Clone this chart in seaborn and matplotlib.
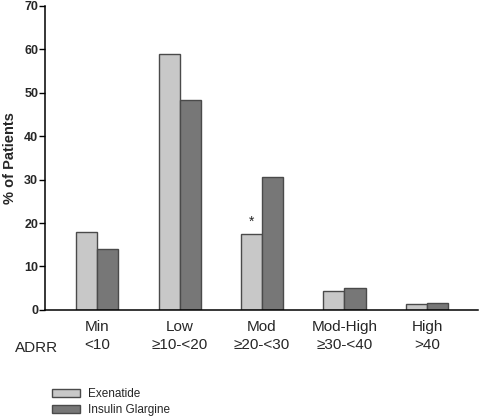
import numpy as np
import pandas as pd
import matplotlib
matplotlib.use("Agg")
import matplotlib.pyplot as plt
import seaborn as sns

# Data
categories = ["Min", "Low", "Mod", "Mod-High", "High"]
ranges = ["<10", "\u226510-<20", "\u226520-<30", "\u226530-<40", ">40"]
exenatide = [18.0, 58.8, 17.4, 4.4, 1.3]
glargine = [14.1, 48.3, 30.6, 5.1, 1.5]
drugs = ["Exenatide", "Insulin Glargine"]
colors = ["#c8c8c8", "#777777"]

df = pd.DataFrame({
    "group": categories * 2,
    "pct": exenatide + glargine,
    "drug": [drugs[0]] * len(categories) + [drugs[1]] * len(categories),
})

sns.set_style("white")
plt.rcParams["font.family"] = ["Liberation Sans", "DejaVu Sans"]

fig = plt.figure(figsize=(4.8, 4.16), dpi=100)
ax = fig.add_axes([0.094, 0.255, 0.902, 0.731])

sns.barplot(data=df, x="group", y="pct", hue="drug", order=categories,
            hue_order=drugs, palette=colors, width=0.51, gap=0,
            edgecolor="#4a4a4a", linewidth=1.0, saturation=1, ax=ax)

ax.set_ylim(0, 70)
ax.set_xlim(-0.63, 4.62)
ax.set_yticks(range(0, 71, 10))
ax.set_ylabel("% of Patients", fontsize=10.5, fontweight="bold", labelpad=5)
ax.set_xlabel("")
ax.set_xticks(range(len(categories)))
ax.set_xticklabels([f"{c}\n{r}" for c, r in zip(categories, ranges)],
                   fontsize=11, linespacing=1.4)
for lbl in ax.get_yticklabels():
    lbl.set_fontweight("bold")
ax.tick_params(axis="y", length=4, width=1, labelsize=9, pad=1, left=True, color="black")
ax.tick_params(axis="x", length=0, pad=7)

sns.despine(ax=ax)
for side in ["left", "bottom"]:
    ax.spines[side].set_color("black")
    ax.spines[side].set_linewidth(1.1)

# asterisk over the Mod exenatide bar
bar = ax.containers[0][2]
ax.text(bar.get_x() + bar.get_width() / 2, bar.get_height() + 1.2, "*",
        ha="center", va="bottom", fontsize=10)

ax.text(-0.02, -0.125, "ADRR", transform=ax.transAxes, ha="center",
        va="center", fontsize=11, clip_on=False)

ax.legend_.remove()
handles = [plt.Rectangle((0, 0), 1, 1, facecolor=c, edgecolor="#4a4a4a", linewidth=1.0)
           for c in colors]
fig.legend(handles, drugs, loc="upper left", bbox_to_anchor=(0.108, 0.067),
           frameon=False, fontsize=8.5, handlelength=2.4, handleheight=0.75,
           handletextpad=0.7, labelspacing=0.35, borderpad=0, borderaxespad=0)

plt.savefig("out.png", dpi=100)
